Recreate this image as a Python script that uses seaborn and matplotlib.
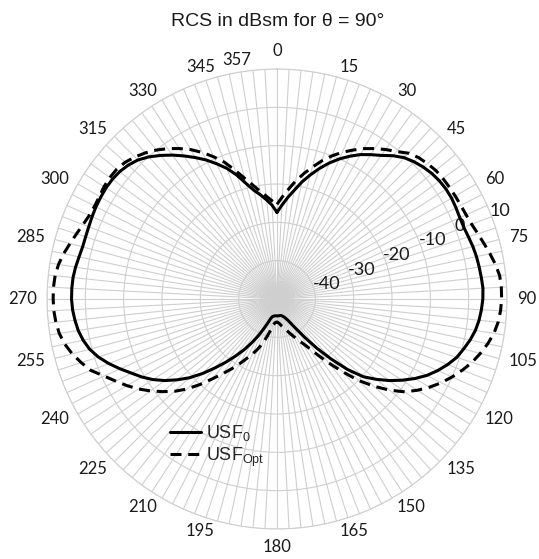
import numpy as np
import pandas as pd
import matplotlib
matplotlib.use("Agg")
import matplotlib.pyplot as plt
import seaborn as sns

# ---------------- data ----------------
angles_deg = list(range(0, 360, 3))          # 120 categories, 0..357

usf0 = [
    -27.4, -25.5, -23.4, -21.3, -18.8, -16.5, -14.2, -12.0, -10.0, -8.2,
    -6.5, -5.1, -3.7, -1.9, -0.4, 0.6, 1.4, 2.0, 2.4, 2.6,
    2.6, 2.4, 2.2, 2.2, 2.5, 2.9, 3.2, 3.4, 3.6, 3.8,
    3.7, 3.4, 3.0, 2.4, 1.5, 0.4, -0.7, -2.3, -4.1, -6.1,
    -8.5, -11.1, -13.8, -16.7, -19.7, -24.0, -29.0, -33.5, -37.5, -40.5,
    -42.5, -43.8, -44.5, -45.0, -45.3, -45.5, -45.6, -45.6, -45.6, -45.6,
    -45.6, -45.6, -45.6, -45.5, -45.4, -45.2, -44.6, -43.3, -41.5, -39.2,
    -36.8, -34.2, -31.6, -28.8, -25.8, -22.5, -19.3, -16.5, -13.8, -11.4,
    -9.3, -7.4, -5.2, -3.0, -1.0, 0.6, 1.7, 2.5, 3.0, 3.4,
    3.6, 3.6, 3.5, 3.2, 2.8, 2.5, 2.5, 2.6, 2.8, 3.0,
    3.1, 3.2, 3.1, 2.8, 2.2, 1.3, -0.1, -1.8, -3.6, -5.5,
    -7.4, -9.3, -11.4, -13.5, -16.0, -18.8, -21.0, -22.5, -24.0, -25.5,
]

usf_opt = [
    -25.3, -23.3, -21.2, -18.8, -16.6, -14.4, -12.1, -10.0, -8.1, -6.4,
    -4.7, -3.2, -1.8, -0.5, 1.2, 2.2, 2.8, 3.3, 3.5, 3.6,
    3.7, 3.8, 4.0, 4.4, 5.1, 5.9, 6.8, 7.7, 8.4, 8.6,
    8.6, 8.4, 8.0, 7.3, 6.2, 4.9, 3.5, 1.8, 0.0, -1.9,
    -4.0, -6.3, -8.8, -12.2, -16.0, -20.0, -24.5, -28.5, -32.0, -34.8,
    -36.7, -38.0, -39.3, -40.3, -41.2, -41.9, -42.5, -43.0, -43.5, -43.8,
    -44.0, -43.9, -43.6, -43.0, -41.5, -39.8, -37.8, -36.0, -34.3, -32.6,
    -30.5, -28.3, -25.9, -23.2, -20.0, -16.8, -14.0, -11.6, -9.2, -6.9,
    -4.8, -2.8, -0.6, 2.0, 3.7, 5.3, 6.6, 7.5, 8.0, 8.3,
    8.4, 8.4, 8.2, 7.7, 6.9, 5.9, 5.0, 4.2, 3.6, 3.4,
    3.5, 3.8, 3.9, 3.8, 3.3, 2.4, 1.3, 0.0, -1.5, -3.2,
    -5.0, -7.1, -9.4, -11.8, -14.7, -17.4, -19.6, -21.5, -23.0, -24.3,
]

theta_label_angles = list(range(0, 360, 15))
theta_labels = [str(a) for a in theta_label_angles]
extra_label = "357"
r_ticks = [-40, -30, -20, -10, 0, 10]
r_min, r_max = -50, 10
series_names = ["USF$_0$", "USF$_{Opt}$"]

# ---------------- figure ----------------
sns.set_theme(style="white")
plt.rcParams["font.family"] = ["Lato", "DejaVu Sans"]
plt.rcParams["mathtext.default"] = "regular"

fig = plt.figure(figsize=(5.39, 5.59), dpi=100)
ax = fig.add_axes([47 / 539, 1 - 529 / 559, 460 / 539, 460 / 559], projection="polar")
ax.set_theta_zero_location("N")
ax.set_theta_direction(-1)

theta = np.deg2rad(angles_deg + [360])
df = pd.DataFrame({
    "theta": theta,
    "usf0": usf0 + [usf0[0]],
    "usfopt": usf_opt + [usf_opt[0]],
})

grid_col = "#cfcfcf"
txt_col = "#1a1a1a"
sns.lineplot(data=df, x="theta", y="usf0", ax=ax, sort=False, color="black",
             lw=2.2, label=series_names[0], zorder=5)
sns.lineplot(data=df, x="theta", y="usfopt", ax=ax, sort=False, color="black",
             lw=2.2, linestyle=(0, (3.6, 2.2)), label=series_names[1], zorder=5)
ax.set_xlabel("")
ax.set_ylabel("")

ax.set_ylim(r_min, r_max)
ax.set_yticks(r_ticks)
ax.set_yticklabels([])
ax.set_xticks(np.deg2rad(theta_label_angles))
ax.set_xticklabels([])
ax.set_xticks(np.deg2rad(angles_deg), minor=True)
ax.grid(True, which="both", color=grid_col, lw=0.8)
ax.xaxis.grid(True, which="minor", color=grid_col, lw=0.8)
ax.spines["polar"].set_color(grid_col)
ax.spines["polar"].set_linewidth(0.8)
ax.tick_params(axis="both", which="both", length=0)

# category labels, pushed outside the circle (Excel-style anchoring)
r_lab = r_max + 10 / (460 / 2) * (r_max - r_min)   # ~10 px outside the rim
for a, lab in zip(theta_label_angles, theta_labels):
    if a in (0, 180):
        ha = "center"
        va = "bottom" if a == 0 else "top"
    else:
        ha = "left" if a < 180 else "right"
        va = "center"
    ax.text(np.deg2rad(a), r_lab, lab, ha=ha, va=va, fontsize=12,
            color=txt_col, clip_on=False)

# extra category label (last category) as displayed in the reference
ax.text(np.deg2rad(350.5), 13.1, extra_label, ha="center", va="center",
        fontsize=12, color=txt_col, clip_on=False)

# radial value labels
for v in r_ticks:
    ax.text(np.deg2rad(67.5), v, str(v), ha="left", va="center", fontsize=13,
            color=txt_col, zorder=4)

leg = ax.legend(loc="center left", bbox_to_anchor=(170 / 539, 1 - 446 / 559),
                bbox_transform=fig.transFigure, frameon=False,
                prop={"family": "Liberation Sans", "size": 13},
                handlelength=1.7, handletextpad=0.3, labelspacing=0.1,
                borderpad=0, borderaxespad=0)

fig.text(278 / 539, 1 - 22 / 559, "RCS in dBsm for θ = 90°", ha="center",
         va="center", fontsize=14, family="Liberation Sans", color=txt_col)

fig.savefig("out.png", dpi=100)
